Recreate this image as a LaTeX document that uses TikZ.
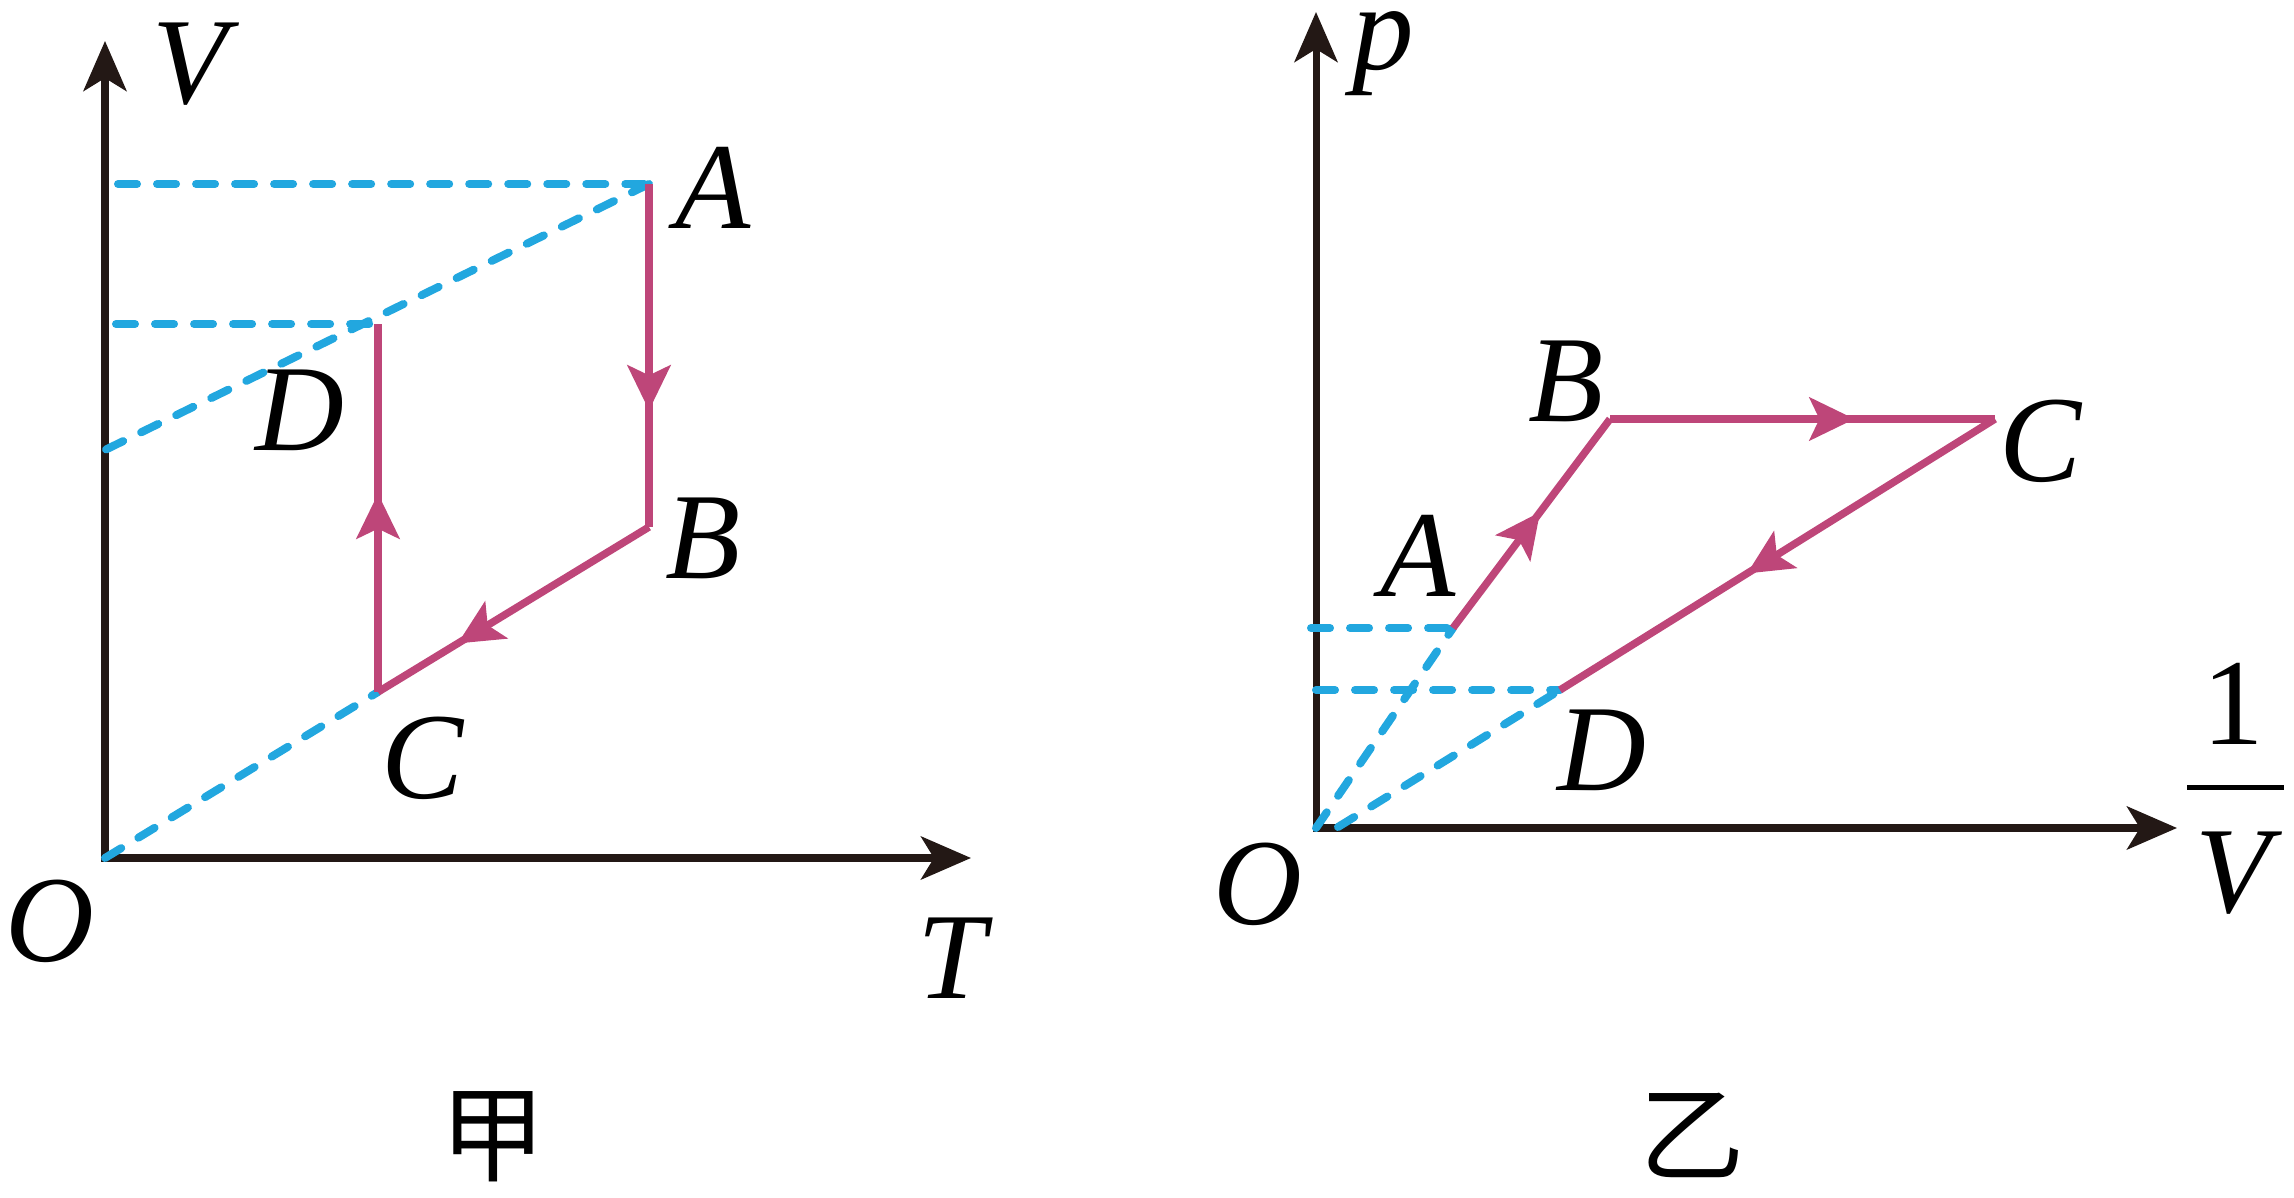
\documentclass[tikz,border=0pt]{standalone}
\usepackage{fontspec}
\setmainfont{Liberation Serif}
\newfontfamily\cjk{Noto Sans CJK SC}
\usetikzlibrary{arrows.meta,decorations.markings}
\definecolor{axcol}{HTML}{231815}
\definecolor{pinkc}{HTML}{BE4679}
\definecolor{bluec}{HTML}{22A7DF}
\tikzset{
  axtip/.tip={Stealth[length=0.5cm,width=0.43cm,inset=0.13cm]},
  pinktip/.tip={Stealth[length=0.45cm,width=0.43cm,inset=0.1cm]},
  axisline/.style={draw=axcol,line width=0.07cm,line join=miter,axtip-axtip},
  guide/.style={draw=bluec,line width=0.08cm,line cap=round,dash pattern=on 0.19cm off 0.2cm},
  process/.style={draw=pinkc,line width=0.075cm,line join=miter},
  midarrow/.style={postaction={decorate,decoration={markings,mark=at position #1 with {\arrow[pinkc]{pinktip}}}}},
  lab/.style={inner sep=0pt,font=\fontsize{35}{40}\selectfont\itshape,text=black},
  uplab/.style={inner sep=0pt,font=\fontsize{35}{40}\selectfont,text=black},
  cjklab/.style={inner sep=0pt,font=\cjk\fontsize{30}{34}\selectfont,text=black}
}
\begin{document}
\begin{tikzpicture}[x={(0.01cm,0)},y={(0,-0.01cm)}]
\useasboundingbox (0,0) rectangle (2294,1198);
% ---------- left panel (jia) ----------
\coordinate (LO) at (105,858);
\coordinate (LVtip) at (105,41);
\coordinate (LTtip) at (971,858);
\coordinate (LA) at (649,184);
\coordinate (LB) at (649,527);
\coordinate (LC) at (378,692);
\coordinate (LD) at (378,324);
\coordinate (LAax) at (118,184);
\coordinate (LDax) at (116,324);
\coordinate (LADax) at (105,450);
\draw[axisline] (LVtip) -- (LO) -- (LTtip);
\draw[guide] (LAax) -- (LA);
\draw[guide] (LDax) -- (LD);
\draw[guide] (LA) -- (LADax);
\draw[guide] (LO) -- (LC);
\draw[process,midarrow=0.66] (LA) -- (LB);
\draw[process,midarrow=0.707] (LB) -- (LC);
\draw[process,midarrow=0.539] (LC) -- (LD);
\node[lab] (lV) at (190,64) {V};
\node[lab] (lAl) at (713,188) {A};
\node[lab] (lDl) at (300,410) {D};
\node[lab] (lBl) at (703,538) {B};
\node[lab] (lCl) at (423,758) {C};
\node[lab] (lOl) at (50,921) {O};
\node[lab] (lT) at (952,958) {T};
\node[cjklab] (jia) at (493,1137) {甲};
% ---------- right panel (yi) ----------
\coordinate (RO) at (1316,828);
\coordinate (RPtip) at (1316,12);
\coordinate (RXtip) at (2177,828);
\coordinate (RA) at (1453,628);
\coordinate (RB) at (1610,419);
\coordinate (RC) at (1995,419);
\coordinate (RD) at (1560,690);
\coordinate (RAax) at (1311,628);
\coordinate (RDax) at (1316,690);
\coordinate (RO2) at (1338,827);
\draw[axisline] (RPtip) -- (RO) -- (RXtip);
\draw[guide] (RAax) -- (RA);
\draw[guide] (RDax) -- (RD);
\draw[guide] (RO) -- (RA);
\draw[guide] (RO2) -- (RD);
\draw[process,midarrow=0.555] (RA) -- (RB);
\draw[process,midarrow=0.635] (RB) -- (RC);
\draw[process,midarrow=0.57] (RC) -- (RD);
\node[lab,anchor=base] (rp) at (1383,70) {p};
\node[lab] (rBl) at (1566,381) {B};
\node[lab] (rCl) at (2041,441) {C};
\node[lab] (rAl) at (1418,556) {A};
\node[lab] (rDl) at (1602,750) {D};
\node[lab] (rOl) at (1258,884) {O};
\node[uplab] (rone) at (2233,704) {1};
\coordinate (barL) at (2187,788);
\coordinate (barR) at (2284,788);
\draw[draw=black,line width=0.05cm] (barL) -- (barR);
\node[lab] (rVden) at (2233,873) {V};
\node[cjklab] (yi) at (1692,1135) {乙};
\end{tikzpicture}
\end{document}
